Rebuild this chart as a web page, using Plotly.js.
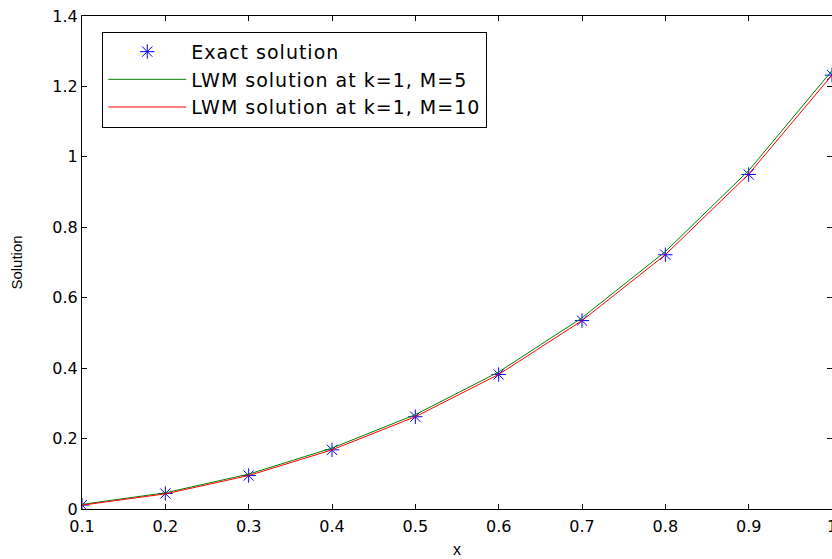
<!DOCTYPE html>
<html>
<head>
<meta charset="utf-8">
<script src="https://cdn.plot.ly/plotly-3.0.1.min.js"></script>
<style>
html, body { margin: 0; padding: 0; overflow: hidden; background: #fff; }
#chart { width: 832px; height: 559px; }
.legendtext { letter-spacing: 1px; }
</style>
</head>
<body>
<div id="chart"></div>
<script>
var xValues = [0.1, 0.2, 0.3, 0.4, 0.5, 0.6, 0.7, 0.8, 0.9, 1.0];
var exactSolution = [0.011, 0.044, 0.095, 0.168, 0.262, 0.382, 0.535, 0.722, 0.950, 1.232];
var lwmM5 = [0.013, 0.046, 0.099, 0.173, 0.268, 0.389, 0.543, 0.731, 0.961, 1.245];
var lwmM10 = [0.011, 0.043, 0.095, 0.168, 0.262, 0.382, 0.535, 0.722, 0.951, 1.232];
var xTickVals = [0.1, 0.2, 0.3, 0.4, 0.5, 0.6, 0.7, 0.8, 0.9, 1.0];
var xTickText = ["0.1", "0.2", "0.3", "0.4", "0.5", "0.6", "0.7", "0.8", "0.9", "1"];
var yTickVals = [0, 0.2, 0.4, 0.6, 0.8, 1.0, 1.2, 1.4];
var yTickText = ["0", "0.2", "0.4", "0.6", "0.8", "1", "1.2", "1.4"];
var seriesNames = ["Exact solution", "LWM solution at k=1, M=5", "LWM solution at k=1, M=10"];

var traces = [
  {
    x: xValues, y: exactSolution, name: seriesNames[0], type: "scatter", mode: "markers",
    marker: { symbol: "asterisk-open", size: 12, color: "#0000ff", line: { color: "#0000ff", width: 1 } }
  },
  {
    x: xValues, y: lwmM5, name: seriesNames[1], type: "scatter", mode: "lines",
    line: { color: "#008000", width: 1 }
  },
  {
    x: xValues, y: lwmM10, name: seriesNames[2], type: "scatter", mode: "lines",
    line: { color: "#ff0000", width: 1 }
  }
];

var layout = {
  width: 832, height: 559,
  margin: { l: 82, r: 0, t: 16, b: 50, pad: 0 },
  paper_bgcolor: "#ffffff", plot_bgcolor: "#ffffff",
  font: { family: "DejaVu Sans", size: 16, color: "#000000" },
  showlegend: true,
  legend: {
    x: 0.027, y: 0.968, xanchor: "left", yanchor: "top",
    bgcolor: "#ffffff", bordercolor: "#000000", borderwidth: 1,
    font: { family: "DejaVu Sans", size: 19, color: "#000000" },
    itemwidth: 78, tracegroupgap: 0
  },
  xaxis: {
    range: [0.1, 1.0], tickvals: xTickVals, ticktext: xTickText,
    ticks: "inside", ticklen: 5, tickcolor: "#000000", tickwidth: 1,
    showline: true, linecolor: "#000000", linewidth: 1, mirror: "ticks",
    showgrid: false, zeroline: false, ticklabeloverflow: "allow",
    tickfont: { family: "DejaVu Sans", size: 16 }, ticklabelstandoff: 3,
    title: { text: "x", font: { family: "Liberation Sans", size: 16 }, standoff: 8 }
  },
  yaxis: {
    range: [0, 1.4], tickvals: yTickVals, ticktext: yTickText,
    ticks: "inside", ticklen: 5, tickcolor: "#000000", tickwidth: 1,
    showline: true, linecolor: "#000000", linewidth: 1, mirror: "ticks",
    showgrid: false, zeroline: false, ticklabeloverflow: "allow",
    tickfont: { family: "DejaVu Sans", size: 16 },
    title: { text: "Solution", font: { family: "Liberation Sans", size: 15 }, standoff: 26 }
  }
};

Plotly.newPlot("chart", traces, layout, { displayModeBar: false, staticPlot: true });
</script>
</body>
</html>
